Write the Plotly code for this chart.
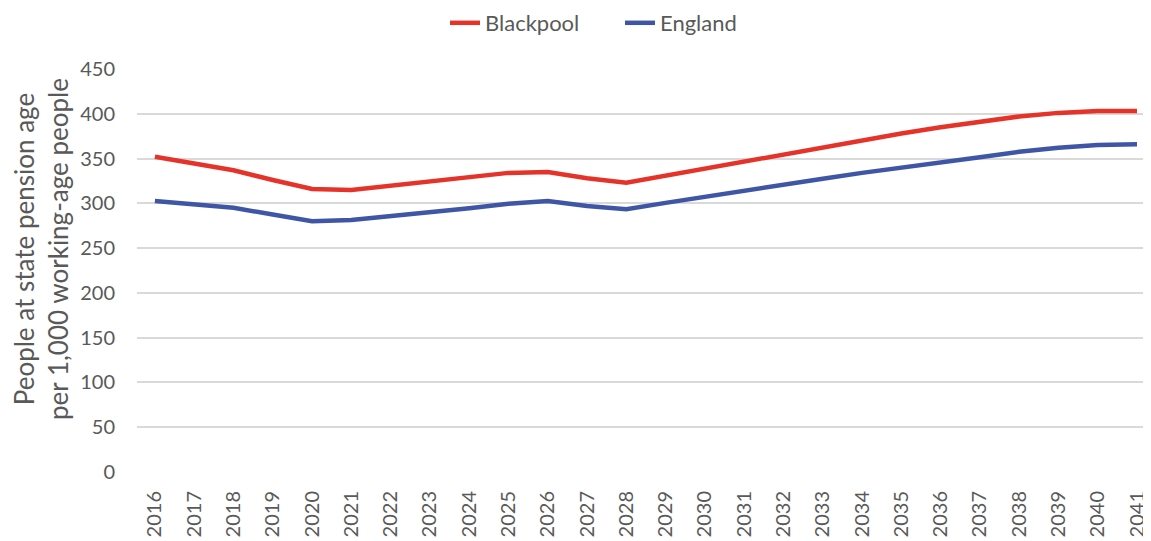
import plotly.graph_objects as go

years = [str(y) for y in range(2016, 2042)]
blackpool = [352, 344, 337, 326, 316, 315, 320, 324, 329, 334, 335, 328, 323,
             331, 339, 347, 355, 363, 371, 378, 385, 391, 397, 401, 403, 403]
england = [302.5, 299, 295, 287.5, 280, 281.5, 285.5, 289.5, 294.5, 299.5, 302.5, 297, 293.5,
           300.5, 307.5, 314, 321, 327.5, 334, 339.5, 345.5, 351.5, 357.5, 362, 365, 366]
y_ticks = [0, 50, 100, 150, 200, 250, 300, 350, 400, 450]

FONT = "Lato, 'Open Sans', sans-serif"
GREY = "#595959"

fig = go.Figure()
fig.add_trace(go.Scatter(x=years, y=blackpool, name="Blackpool", mode="lines",
                         line=dict(color="#E63329", width=4.5)))
fig.add_trace(go.Scatter(x=years, y=england, name="England", mode="lines",
                         line=dict(color="#3F56A6", width=4.5)))

# the page body has an 8px margin, so the figure starts at (8, 8)
OFF = 8
W, H = 1151 - OFF, 541 - OFF
L, R, T, B = 137 - OFF, 0, 69 - OFF, 69
PW, PH = W - L - R, H - T - B


def px_x(p):
    return (p - OFF - L) / PW


def px_y(p):
    return (H - B - (p - OFF)) / PH


fig.update_layout(
    width=W, height=H,
    margin=dict(l=L, r=R, t=T, b=B, pad=0, autoexpand=False),
    paper_bgcolor="white", plot_bgcolor="white",
    font=dict(family=FONT, color=GREY, size=20),
    showlegend=True,
    legend=dict(orientation="h", x=px_x(445), xanchor="left",
                y=px_y(23), yanchor="middle", bgcolor="rgba(0,0,0,0)",
                font=dict(family=FONT, size=22, color=GREY),
                entrywidth=130, tracegroupgap=0),
    xaxis=dict(type="category", range=[-0.456, 25.356], showgrid=False,
               showline=False, zeroline=False, tickangle=-90, ticks="",
               ticklabelstandoff=14, automargin=False,
               tickfont=dict(family=FONT, size=20, color=GREY)),
    yaxis=dict(range=[0, 450], tickvals=y_ticks, showgrid=True,
               gridcolor="#D9D9D9", gridwidth=1.5, zeroline=False,
               showline=False, ticks="", ticklabelstandoff=21, automargin=False,
               tickfont=dict(family=FONT, size=20, color=GREY)),
    annotations=[dict(text="People at state pension age<br>per 1,000 working-age people",
                      xref="paper", yref="paper",
                      x=px_x(41), y=px_y(249),
                      xanchor="center", yanchor="middle", textangle=-90,
                      showarrow=False,
                      font=dict(family=FONT, size=26, color=GREY))],
)
fig.write_html("out.html")
